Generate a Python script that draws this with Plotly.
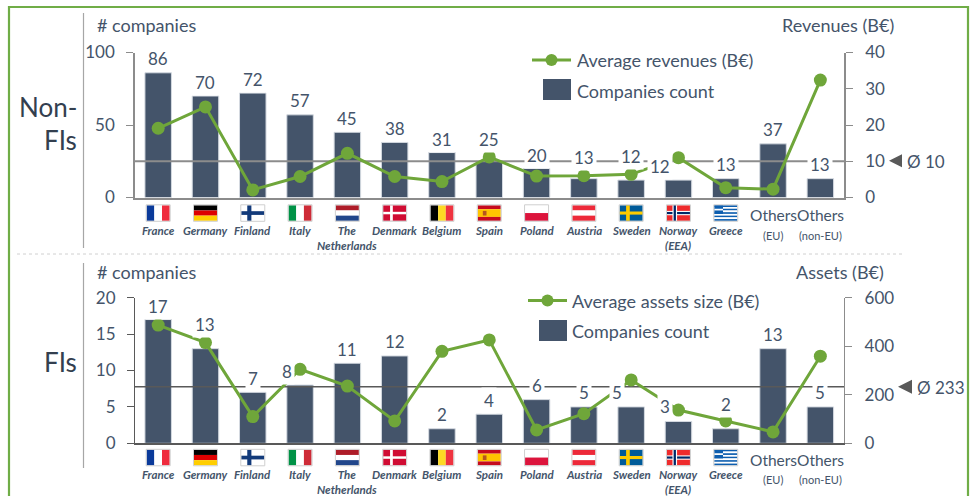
import plotly.graph_objects as go

W, H = 976, 496
FONT = "Lato"
SLATE = "#44546A"
GREEN = "#6FA63A"

names = ["France", "Germany", "Finland", "Italy", "The<br>Netherlands", "Denmark", "Belgium", "Spain",
         "Poland", "Austria", "Sweden", "Norway<br>(EEA)", "Greece", "Others", "Others"]
others_notes = ["(EU)", "(non-EU)"]
categories = list(range(15))

nonfi_count = [86, 70, 72, 57, 45, 38, 31, 25, 20, 13, 12, 12, 13, 37, 13]
nonfi_revenue = [19.1, 25.0, 2.1, 5.8, 12.2, 5.8, 4.4, 11.2, 5.9, 6.0, 6.4, 11.0, 2.7, 2.3, 32.4]
fi_count = [17, 13, 7, 8, 11, 12, 2, 4, 6, 5, 5, 3, 2, 13, 5]
fi_assets = [487, 415, 110, 305, 236, 92, 379, 426, 55, 122, 261, 137, 92, 47, 359]
nonfi_avg = 10
fi_avg = 233

# the chart has 15 columns between the two vertical axes
X_RANGE = [-0.49, 14.5]


def px(x):
    return x / W


def py(y):
    return 1 - y / H


# label placement: offset above bar top, sideways shift (pixels)
top_up = [14, 14, 14, 14, 14, 14, 13, 22, 13.5, 21, 23.5, 13.5, 14, 14.5, 14]
top_side = [0, 0, 0, 0, 0, 0, 0, 0, 0, 0, 0, -18, 0, 0, 0]
bot_up = [13.5, 24, 14, 14, 14, 14, 14, 14, 14, 14, 14, 15, 24.5, 14.5, 14]
bot_side = [0, 0, 0, -13, 0, 0, 0, 0, 0, 0, -14, -13, 0, 0, 0]

fig = go.Figure()


def add_panel(count, values, avg, name, ya, ya2):
    xa = "x" if ya == "y" else "x2"
    fig.add_bar(x=categories, y=count, name="Companies count",
                marker=dict(color=SLATE, line=dict(color="#d5dae1", width=1)),
                width=0.56, yaxis=ya, xaxis=xa, showlegend=False)
    fig.add_scatter(x=X_RANGE, y=[avg, avg], mode="lines", yaxis=ya2, xaxis=xa,
                    line=dict(color="#8c8c8c" if ya == "y" else "#595959", width=2 if ya == "y" else 1.3),
                    showlegend=False, hoverinfo="skip")
    fig.add_scatter(x=categories, y=values, name=name, mode="lines+markers", yaxis=ya2,
                    xaxis=xa, line=dict(color=GREEN, width=3),
                    marker=dict(size=13, color=GREEN), showlegend=False)


add_panel(nonfi_count, nonfi_revenue, nonfi_avg, "Average revenues (B€)", "y", "y2")
add_panel(fi_count, fi_assets, fi_avg, "Average assets size (B€)", "y3", "y4")

shapes = []
annotations = []


def text(x, y, s, size=18, anchor="left", color=SLATE, **kw):
    annotations.append(dict(x=px(x), y=py(y), xref="paper", yref="paper", text=s, showarrow=False,
                            xanchor=anchor, yanchor="middle", font=dict(family=FONT, size=size, color=color), **kw))


def rect(x0, y0, x1, y1, fill, line=None, width=0, layer="above"):
    shapes.append(dict(type="rect", xref="paper", yref="paper", x0=px(x0), x1=px(x1), y0=py(y0), y1=py(y1),
                       fillcolor=fill, line=dict(color=line or fill, width=width), layer=layer))


def hline(x0, x1, y, color, width=1, dash="solid"):
    shapes.append(dict(type="line", xref="paper", yref="paper", x0=px(x0), x1=px(x1), y0=py(y), y1=py(y),
                       line=dict(color=color, width=width, dash=dash)))


def vline(x, y0, y1, color, width=1):
    shapes.append(dict(type="line", xref="paper", yref="paper", x0=px(x), x1=px(x), y0=py(y0), y1=py(y1),
                       line=dict(color=color, width=width)))


# frame and separators
shapes.append(dict(type="rect", xref="paper", yref="paper", x0=px(9), x1=px(968), y0=py(7), y1=py(520),
                   line=dict(color="#70AD47", width=2.2), layer="below"))
vline(83.5, 13, 248, "#a6a6a6", 1.2)
vline(83.5, 263, 468, "#a6a6a6", 1.2)
hline(17, 904, 254, "#d0d0d0", 1, "dot")

# flags: stripes given as (fraction start, fraction end, colour)
FLAGS = {
    "France": ("v", [(0, 1/3, "#0A3A9A"), (1/3, 2/3, "#FFFFFF"), (2/3, 1, "#EF2B3D")]),
    "Germany": ("h", [(0, 1/3, "#000000"), (1/3, 2/3, "#DD0000"), (2/3, 1, "#FFCE00")]),
    "Finland": ("h", [(0, 1, "#FFFFFF"), (0.38, 0.62, "#123A7A")]),
    "Italy": ("v", [(0, 1/3, "#009246"), (1/3, 2/3, "#FFFFFF"), (2/3, 1, "#CE2B37")]),
    "NL": ("h", [(0, 1/3, "#AE1C28"), (1/3, 2/3, "#FFFFFF"), (2/3, 1, "#21468B")]),
    "Denmark": ("h", [(0, 1, "#D00C33"), (0.42, 0.58, "#FFFFFF")]),
    "Belgium": ("v", [(0, 1/3, "#000000"), (1/3, 2/3, "#FDDA24"), (2/3, 1, "#EF3340")]),
    "Spain": ("h", [(0, 0.25, "#C60B1E"), (0.25, 0.75, "#FFC400"), (0.75, 1, "#C60B1E")]),
    "Poland": ("h", [(0, 0.5, "#FFFFFF"), (0.5, 1, "#DC143C")]),
    "Austria": ("h", [(0, 1/3, "#ED2939"), (1/3, 2/3, "#FFFFFF"), (2/3, 1, "#ED2939")]),
    "Sweden": ("h", [(0, 1, "#005B99"), (0.4, 0.6, "#FECC00")]),
    "Norway": ("h", [(0, 1, "#EF2B2D"), (0.36, 0.64, "#FFFFFF"), (0.43, 0.57, "#002868")]),
    "Greece": ("h", [(i / 9, (i + 1) / 9, "#0D5EAF" if i % 2 == 0 else "#FFFFFF") for i in range(9)]),
}
CROSS = {"Finland": ("#123A7A", 0.26, 0.44), "Denmark": ("#FFFFFF", 0.30, 0.42),
         "Sweden": ("#FECC00", 0.28, 0.44), "Norway": ("#FFFFFF", 0.24, 0.44)}
flag_keys = ["France", "Germany", "Finland", "Italy", "NL", "Denmark", "Belgium", "Spain", "Poland", "Austria",
             "Sweden", "Norway", "Greece"]


def xpos(i):
    return 135 + (i - X_RANGE[0]) * (844 - 135) / (X_RANGE[1] - X_RANGE[0])


def draw_flag(key, cx, y0, y1):
    x0, x1 = cx - 11.5, cx + 11.5
    kind, stripes = FLAGS[key]
    for a, b, c in stripes:
        if kind == "v":
            rect(x0 + a * (x1 - x0), y0, x0 + b * (x1 - x0), y1, c)
        else:
            rect(x0, y0 + a * (y1 - y0), x1, y0 + b * (y1 - y0), c)
    if key in CROSS:
        col, a, b = CROSS[key]
        rect(x0 + a * (x1 - x0), y0, x0 + b * (x1 - x0), y1, col)
    if key == "Norway":
        rect(x0 + 0.29 * (x1 - x0), y0, x0 + 0.39 * (x1 - x0), y1, "#002868")
    if key == "Spain":
        rect(x0 + 0.22 * (x1 - x0), y0 + 0.36 * (y1 - y0), x0 + 0.38 * (x1 - x0), y0 + 0.66 * (y1 - y0), "#B5561F")
    if key == "Greece":
        rect(x0, y0, x0 + 0.38 * (x1 - x0), y0 + 5 / 9 * (y1 - y0), "#0D5EAF")
        rect(x0, y0 + 2 / 9 * (y1 - y0), x0 + 0.38 * (x1 - x0), y0 + 3 / 9 * (y1 - y0), "#FFFFFF")
    rect(x0 - 0.5, y0 - 0.5, x1 + 0.5, y1 + 0.5, "rgba(0,0,0,0)", "#cfcfcf", 1)


def panel_text(count, up, side, xref, yref, flag_y, name_y):
    for i, (c, u, s) in enumerate(zip(count, up, side)):
        annotations.append(dict(x=i, y=c, xref=xref, yref=yref, text=str(c), showarrow=False, xanchor="center",
                                yanchor="middle", yshift=u, xshift=s, bgcolor="white", borderpad=2,
                                font=dict(family=FONT, size=17, color=SLATE)))
    for i, n in enumerate(names):
        if i < 13:
            draw_flag(flag_keys[i], xpos(i), flag_y, flag_y + 15.5)
            annotations.append(dict(x=i, y=py(name_y), xref=xref, yref="paper", text=f"<b><i>{n}</i></b>",
                                    showarrow=False, xanchor="center", yanchor="top",
                                    font=dict(family=FONT, size=11.5, color=SLATE)))
        else:
            annotations.append(dict(x=i, y=py(flag_y + 10), xref=xref, yref="paper", text=n, showarrow=False,
                                    xanchor="center", yanchor="middle", font=dict(family=FONT, size=15.5, color=SLATE)))
            annotations.append(dict(x=i, y=py(flag_y + 30), xref=xref, yref="paper", text=others_notes[i - 13],
                                    showarrow=False, xanchor="center", yanchor="middle",
                                    font=dict(family=FONT, size=11, color=SLATE)))


panel_text(nonfi_count, top_up, top_side, "x", "y", 205.3, 222)
panel_text(fi_count, bot_up, bot_side, "x2", "y3", 449.8, 465.5)


def legend(lx0, lx1, sx0, ty1, ty2, sy0, sy1, label, gap):
    hline(lx0, lx1, ty1, GREEN, 3)
    shapes.append(dict(type="circle", xref="paper", yref="paper", x0=px((lx0 + lx1) / 2 - 6), x1=px((lx0 + lx1) / 2 + 6),
                       y0=py(ty1 - 6), y1=py(ty1 + 6), fillcolor=GREEN, line=dict(color=GREEN, width=0)))
    rect(sx0, sy0, lx1, sy1, SLATE)
    text(lx1 + gap, ty1, label)
    text(lx1 + gap, ty2, "Companies count")


legend(532, 571, 543, 60, 90.5, 79, 100, "Average revenues (B€)", 4)
legend(528, 567, 539, 300.5, 331, 320, 341, "Average assets size (B€)", 3)

text(95, 25.5, "# companies")
text(896, 25.5, "Revenues (B€)", 18, "right")
text(95, 272, "# companies")
text(886, 272, "Assets (B€)", 18, "right")
text(79, 107, "Non-", 26, "right", "#333F4F")
text(79, 140, "FIs", 26, "right", "#333F4F")
text(79, 362, "FIs", 26, "right", "#333F4F")


def tri(x0, x1, y, h):
    shapes.append(dict(type="path", xref="paper", yref="paper",
                       path=f"M {px(x0)} {py(y)} L {px(x1)} {py(y - h)} L {px(x1)} {py(y + h)} Z",
                       fillcolor="#595959", line=dict(width=0)))


tri(889, 902, 160.7, 6.5)
text(904.5, 161, f"Ø {nonfi_avg}", 17)
tri(898, 912, 386.7, 7)
text(915, 387, f"Ø {fi_avg}", 17)

axis_font = dict(family=FONT, size=17, color=SLATE)


def yax(dom, rng, ticks, side, color, width, **kw):
    return dict(domain=dom, range=rng, tickvals=ticks, side=side, showgrid=False, zeroline=False, showline=True,
                linecolor=color, linewidth=width, ticks="outside", ticklen=7, tickcolor=color, tickwidth=1.2,
                tickfont=axis_font, ticklabelstandoff=8 if side == "left" else 9, **kw)


def xax(anchor, color):
    return dict(domain=[px(135), px(844)], range=X_RANGE, anchor=anchor, showgrid=False, zeroline=False, showline=True,
                linecolor=color, linewidth=1.6, showticklabels=False, ticks="")


fig.update_layout(
    width=W, height=H, margin=dict(l=0, r=0, t=0, b=0, autoexpand=False), paper_bgcolor="white",
    plot_bgcolor="rgba(0,0,0,0)",
    showlegend=False, bargap=0.47, shapes=shapes, annotations=annotations,
    xaxis=xax("y", "#8c8c8c"), xaxis2=xax("y3", "#595959"),
    yaxis=yax([py(197.5), py(52.5)], [0, 100], [0, 50, 100], "left", "#8c8c8c", 1.6, anchor="x"),
    yaxis2=yax([py(197.5), py(52.5)], [0, 40], [0, 10, 20, 30, 40], "right", "#8c8c8c", 1.6, overlaying="y", anchor="x"),
    yaxis3=yax([py(443.3), py(297.7)], [0, 20], [0, 5, 10, 15, 20], "left", "#595959", 1.2, anchor="x2"),
    yaxis4=yax([py(443.3), py(297.7)], [0, 600], [0, 200, 400, 600], "right", "#8c8c8c", 1.4, overlaying="y3", anchor="x2"),
)
fig.write_html("out.html", config=dict(displayModeBar=False), post_script="document.body.style.margin='0';")
